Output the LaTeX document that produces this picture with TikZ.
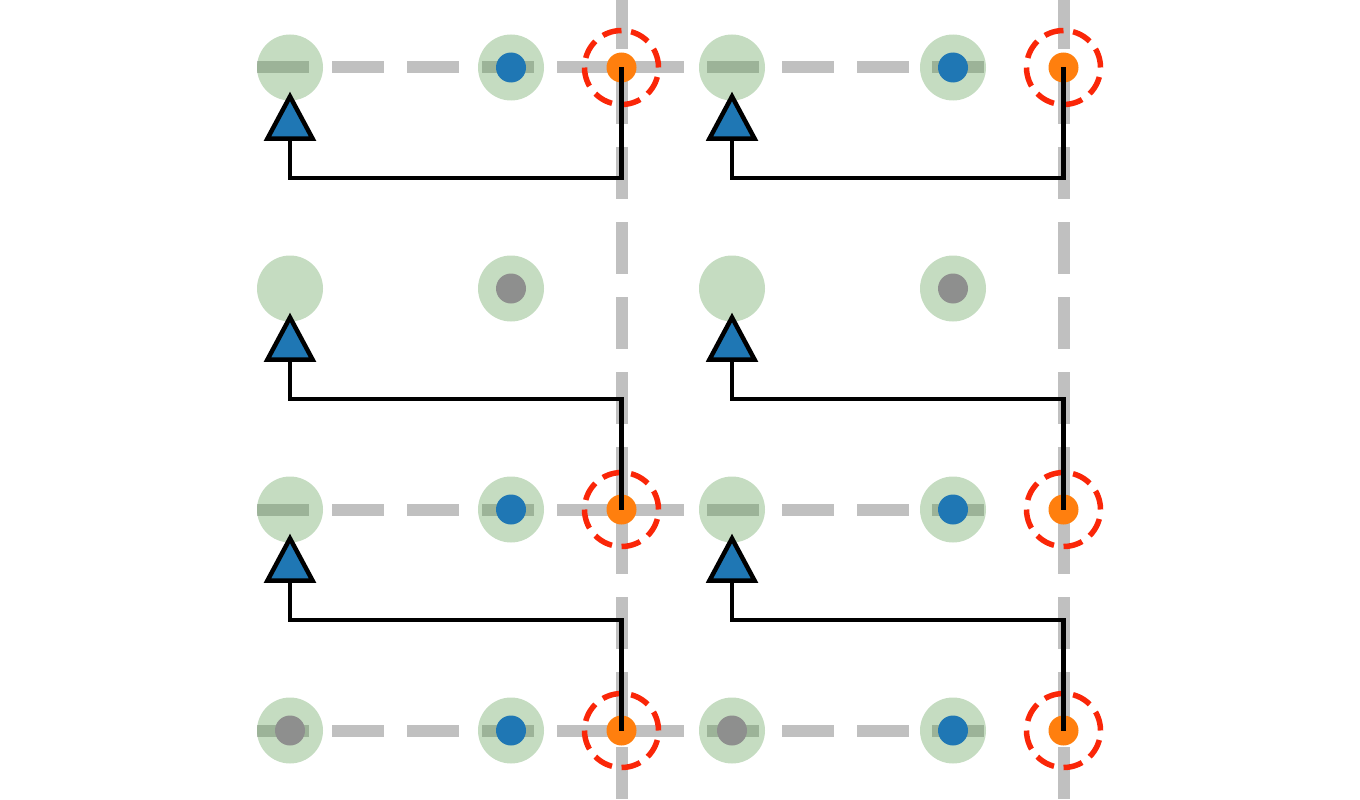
\documentclass[tikz,border=0pt]{standalone}
\definecolor{gline}{RGB}{192,192,192}
\definecolor{gcirc}{RGB}{89,155,78}
\definecolor{mblue}{RGB}{31,119,180}
\definecolor{morange}{RGB}{255,127,14}
\definecolor{mgray}{RGB}{142,143,142}
\definecolor{mred}{RGB}{250,38,8}
\begin{document}
\begin{tikzpicture}[x=1pt,y=-1pt,
  gridln/.style={draw=gline,line width=12pt,dash pattern=on 52pt off 23pt},
  halo/.style={circle,fill=gcirc,fill opacity=0.35,minimum size=66pt,inner sep=0pt},
  bdot/.style={circle,fill=mblue,minimum size=30pt,inner sep=0pt},
  gdot/.style={circle,fill=mgray,minimum size=30pt,inner sep=0pt},
  odot/.style={circle,fill=morange,minimum size=30pt,inner sep=0pt},
  ring/.style={circle,draw=mred,line width=5.5pt,dash pattern=on 19.4pt off 9.66pt,minimum size=74pt,inner sep=0pt},
  conn/.style={draw=black,line width=4.5pt,line join=miter},
  tri/.style={fill=mblue,draw=black,line width=4.5pt,line join=miter}
]
\useasboundingbox (0,0) rectangle (1360,800);
\clip (0,0) rectangle (1360,800);
% grid lines
\draw[gridln] (621.5,-3) -- (621.5,799);
\draw[gridln] (1063.5,-3) -- (1063.5,799);
\foreach \y in {67.5,509.5,730.5} \draw[gridln] (257,\y) -- (984,\y);
% halos
\foreach \x/\c in {290/a,511/b,732/c,953/d}
  \foreach \y/\r in {67.5/1,288.5/2,509.5/3,730.5/4}
    \node[halo] (h\c\r) at (\x,\y) {};
% dots
\foreach \y/\r in {67.5/1,509.5/3,730.5/4}{
  \node[bdot] (bL\r) at (511,\y) {};
  \node[bdot] (bR\r) at (953,\y) {};
  \node[odot] (oL\r) at (621.5,\y) {};
  \node[odot] (oR\r) at (1063.5,\y) {};
  \node[ring] (rL\r) at (621.5,\y) {};
  \node[ring] (rR\r) at (1063.5,\y) {};
}
\node[gdot] (gL2) at (511,288.5) {};
\node[gdot] (gR2) at (953,288.5) {};
\node[gdot] (gL4) at (290,730.5) {};
\node[gdot] (gR4) at (732,730.5) {};
% triangle base coordinates
\foreach \y/\r in {67.5/1,288.5/2,509.5/3}{
  \coordinate (tL\r) at (290,\y+71);
  \coordinate (tR\r) at (732,\y+71);
}
% connectors
\draw[conn] (oL1.center) -- ++(0,110.5) -| (tL1);
\draw[conn] (oR1.center) -- ++(0,110.5) -| (tR1);
\draw[conn] (oL3.center) -- ++(0,-110.5) -| (tL2);
\draw[conn] (oR3.center) -- ++(0,-110.5) -| (tR2);
\draw[conn] (oL4.center) -- ++(0,-110.5) -| (tL3);
\draw[conn] (oR4.center) -- ++(0,-110.5) -| (tR3);
% triangles
\foreach \s in {L,R}
  \foreach \r in {1,2,3}
    \filldraw[tri] (t\s\r) -- ++(-22.5,0) -- ++(22.5,-42) -- ++(22.5,42) -- cycle;
\end{tikzpicture}
\end{document}
